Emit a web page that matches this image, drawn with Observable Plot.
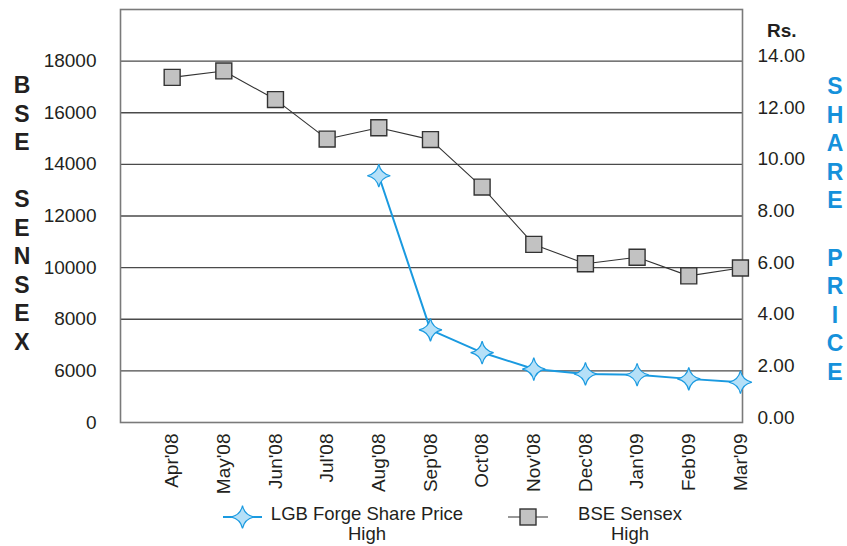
<!DOCTYPE html>
<html>
<head>
<meta charset="utf-8">
<script src="https://cdn.jsdelivr.net/npm/d3@7"></script>
<script src="https://cdn.jsdelivr.net/npm/@observablehq/plot@0.6"></script>
<style>
  html, body { margin: 0; padding: 0; background: #fff; }
  #wrap { position: relative; width: 847px; height: 546px; font-family: "Liberation Sans", Arial, sans-serif; color: #231f20; }
  .vert { position: absolute; white-space: pre; font-weight: bold; font-size: 23px; text-align: center; width: 30px; }
  .lg { position: absolute; font-size: 18.5px; text-align: center; line-height: 20px; }
</style>
</head>
<body>
<div id="wrap">
  <div id="chart"></div>
  <div class="vert" style="left:7px; top:71px; line-height:28.5px;">B
S
E

S
E
N
S
E
X</div>
  <div class="vert" style="left:820px; top:72px; line-height:28.6px; color:#1591db;">S
H
A
R
E

P
R
I
C
E</div>
  <div style="position:absolute; left:767px; top:20px; font-weight:bold; font-size:19px;">Rs.</div>
  <svg id="lgsvg" width="847" height="546" style="position:absolute; left:0; top:0; pointer-events:none;"></svg>
  <div class="lg" style="left:262px; top:504px; width:210px;">LGB Forge Share Price<br>High</div>
  <div class="lg" style="left:565px; top:504px; width:130px;">BSE Sensex<br>High</div>
</div>
<script>
// ---- data ----
const months = ["Apr'08","May'08","Jun'08","Jul'08","Aug'08","Sep'08","Oct'08","Nov'08","Dec'08","Jan'09","Feb'09","Mar'09"];
const sensexHigh = [17370, 17620, 16510, 14980, 15420, 14960, 13120, 10900, 10150, 10400, 9680, 9985];
const sharePriceHigh = [null, null, null, null, 9.56, 3.59, 2.71, 2.07, 1.88, 1.85, 1.69, 1.56];
const leftTickValues = [4000, 6000, 8000, 10000, 12000, 14000, 16000, 18000];
const leftTickLabels = ["0", "6000", "8000", "10000", "12000", "14000", "16000", "18000"];
const rightTickLabels = ["0.00", "2.00", "4.00", "6.00", "8.00", "10.00", "12.00", "14.00"];

// right axis (Rs.) maps onto left scale: price 0 -> 4000, 2 -> 6000 ...
const priceToY = p => 4000 + p * 1000;

const rows = months.map((m, i) => ({ i, m, sensex: sensexHigh[i], price: sharePriceHigh[i] }));
const priceRows = rows.filter(d => d.price != null);

const star4 = {
  draw(ctx, size) {
    const R = Math.sqrt(size / Math.PI);
    const c = R * 0.17;
    ctx.moveTo(0, -R);
    ctx.quadraticCurveTo(c, -c, R, 0);
    ctx.quadraticCurveTo(c, c, 0, R);
    ctx.quadraticCurveTo(-c, c, -R, 0);
    ctx.quadraticCurveTo(-c, -c, 0, -R);
    ctx.closePath();
  }
};

const blue = "#1a9ae0";
const starFill = "#b5e0f8";

const chart = Plot.plot({
  width: 847,
  height: 495,
  marginLeft: 120,
  marginRight: 105,
  marginTop: 9,
  marginBottom: 73,
  style: { fontFamily: "'Liberation Sans', Arial, sans-serif", fontSize: "19px", color: "#231f20", background: "transparent" },
  x: { type: "linear", domain: [-1, 11.04] },
  y: { domain: [4000, 20000] },
  marks: [
    Plot.gridY(leftTickValues.slice(1), { stroke: "#4a4a4a", strokeOpacity: 1, strokeWidth: 1.3 }),
    Plot.frame({ stroke: "#7a7a7a", strokeWidth: 1.6 }),
    Plot.axisY({ anchor: "left", ticks: leftTickValues, tickFormat: (d) => leftTickLabels[leftTickValues.indexOf(d)], tickSize: 0, tickPadding: 24, fontSize: 19, label: null }),
    Plot.axisY({ anchor: "right", ticks: leftTickValues, tickFormat: (d) => rightTickLabels[leftTickValues.indexOf(d)], tickSize: 0, tickPadding: 15, dy: -5, textAnchor: "start", fontSize: 19, label: null }),
    Plot.axisX({ ticks: d3.range(months.length), tickFormat: (i) => months[i], tickRotate: -90, tickSize: 0, tickPadding: 11, fontSize: 19, label: null }),
    Plot.line(rows, { x: "i", y: "sensex", stroke: "#333", strokeWidth: 1.1 }),
    Plot.dot(rows, { x: "i", y: "sensex", symbol: "square", r: 9, fill: "#c2c2c2", stroke: "#333", strokeWidth: 1.4 }),
    Plot.line(priceRows, { x: "i", y: d => priceToY(d.price), stroke: blue, strokeWidth: 2 }),
    Plot.dot(priceRows, { x: "i", y: d => priceToY(d.price), symbol: star4, r: 11.5, fill: starFill, stroke: blue, strokeWidth: 1.2 })
  ]
});
document.getElementById("chart").appendChild(chart);

// legend symbols
const lg = d3.select("#lgsvg");
lg.append("line").attr("x1", 223).attr("x2", 262).attr("y1", 517).attr("y2", 517).attr("stroke", blue).attr("stroke-width", 2);
lg.append("path").attr("transform", "translate(242.5,517)")
  .attr("d", d3.symbol().type(star4).size(Math.PI * 11.5 * 11.5)())
  .attr("fill", starFill).attr("stroke", blue).attr("stroke-width", 1.2);
lg.append("line").attr("x1", 508).attr("x2", 548).attr("y1", 517).attr("y2", 517).attr("stroke", "#333").attr("stroke-width", 1.1);
lg.append("rect").attr("x", 520).attr("y", 509).attr("width", 16).attr("height", 16)
  .attr("fill", "#c2c2c2").attr("stroke", "#333").attr("stroke-width", 1.4);
</script>
</body>
</html>
